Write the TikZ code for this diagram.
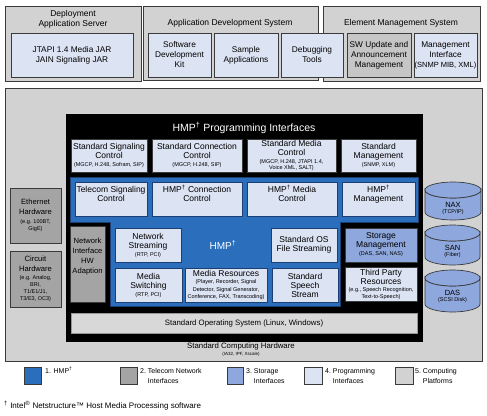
\documentclass[tikz,border=0pt]{standalone}
\usepackage{fontspec}
\setmainfont{Liberation Sans}
\definecolor{cplat}{HTML}{D2D2D2}
\definecolor{cswu}{HTML}{C6C6C6}
\definecolor{clight}{HTML}{DCE3F3}
\definecolor{cblue}{HTML}{2A6EBC}
\definecolor{cstor}{HTML}{8EA7DC}
\definecolor{ctel}{HTML}{A4A4A4}
\definecolor{cedge}{HTML}{3A3A3A}
\definecolor{cnavy}{HTML}{1C3F73}
\definecolor{cos}{HTML}{D8D8D8}
\newcommand\fs[2]{\fontsize{#1}{#2}\selectfont}
\newcommand\smt[1]{{\fs{5.5}{6.5}#1}}
\newcommand\dg{\textsuperscript{†}}
\newcommand\bx[7]{\node[#6, minimum width={(#4-#2)*1pt}, minimum height={(#5-#3)*1pt}] (#1) at ({(#2+#4)/2},{(#3+#5)/2}) {#7};}
\newcommand\twol[2]{\begin{tabular}[t]{@{}l@{}}#1\\#2\end{tabular}}
\tikzset{
  outerbox/.style={draw=cedge, fill=cplat, line width=0.8pt, inner sep=0pt},
  lbox/.style={draw=cedge, fill=clight, line width=0.7pt, inner sep=0pt, align=center, font=\fs{8.5}{9}},
  tbox/.style={lbox, font=\fs{8.3}{10}},
  nbox/.style={lbox, draw=cnavy},
  telbox/.style={lbox, fill=ctel, font=\fs{7.6}{10}},
  storbox/.style={lbox, fill=cstor},
  titletxt/.style={align=center, font=\fs{8.5}{9.5}, inner sep=0pt},
  whitetxt/.style={text=white, inner sep=0pt},
  cylbody/.style={fill=cstor, draw=cedge, line width=0.7pt},
  cyltxt/.style={align=center, font=\fs{7.5}{8}, inner sep=0pt},
  legsq/.style={draw=cedge, line width=0.7pt, inner sep=0pt},
  legtxt/.style={anchor=north west, font=\fs{7}{10}, inner sep=0pt},
}
\begin{document}
\begin{tikzpicture}[x=1pt,y=-1pt]
\useasboundingbox (0,0) rectangle (487,415);

% ---------- top row ----------
\bx{dep}{5}{6}{141}{81}{outerbox}{}
\node[titletxt] (deptitle) at (73,19.5) {Deployment\\Application Server};
\bx{jtapi}{11}{33}{133}{77}{tbox}{JTAPI 1.4 Media JAR\\JAIN Signaling JAR}

\bx{appdev}{143}{6}{318}{80}{outerbox}{}
\node[titletxt] (appdevtitle) at (230,23) {Application Development System};
\bx{elem}{323}{6}{480}{81}{outerbox}{}
\node[titletxt] (elemtitle) at (401,23) {Element Management System};

\bx{sdk}{148}{33}{211}{77}{tbox}{Software\\Development\\Kit}
\bx{sample}{214}{33}{278}{77}{tbox}{Sample\\Applications}
\bx{debug}{281}{33}{343}{77}{tbox}{Debugging\\Tools}
\bx{swupd}{347}{33}{411}{77}{tbox, fill=cswu}{SW Update and\\Announcement\\Management}
\bx{mgmtif}{414}{33}{477}{77}{tbox}{Management\\Interface\\{\fs{7.5}{9}(SNMP MIB, XML)}}

% ---------- platform ----------
\bx{plat}{5}{88}{482}{361}{outerbox, line width=1pt}{}
\node[inner sep=0pt, font=\fs{7.8}{9}] (hwtxt) at (241,346) {Standard Computing Hardware};
\node[inner sep=0pt, font=\fs{4.5}{5}] (hwsub) at (241,354) {(IA32, IPF, Xscale)};

% left hardware
\bx{eth}{10}{188}{61}{243}{telbox}{Ethernet\\Hardware\\[-1.5pt]\smt{(e.g. 100BT,}\\[-3pt]\smt{GigE)}}
\bx{circ}{10}{251}{61}{307}{telbox}{Circuit\\Hardware\\[-2pt]\smt{(e.g. Analog,}\\[-3pt]\smt{BRI,}\\[-3pt]\smt{T1/E1/J1,}\\[-3pt]\smt{T3/E3, OC3)}}

% ---------- black programming interfaces box ----------
\bx{prog}{66}{114}{423}{342}{fill=black, inner sep=0pt}{}
\node[whitetxt, font=\fs{10.5}{12}] (progtitle) at (244,128) {HMP\dg{} Programming Interfaces};

\bx{ssc}{71}{139}{147}{172}{lbox}{Standard Signaling\\Control\\[-1pt]\smt{(MGCP, H.248, Sofram, SIP)}}
\bx{scc}{152}{139}{242}{172}{lbox}{Standard Connection\\Control\\[-1pt]\smt{(MGCP, H.248, SIP)}}
\bx{smc}{247}{139}{336}{172}{lbox}{Standard Media\\Control\\[-1.5pt]\smt{(MGCP, H.248, JTAPI 1.4,}\\[-2.5pt]\smt{Voice XML, SALT)}}
\bx{smg}{341}{139}{416}{172}{lbox}{Standard\\Management\\[-1pt]\smt{(SNMP, XLM)}}

% blue HMP region
\draw[fill=cblue, draw=cnavy, line width=0.6pt] (70,177) -- (418,177) -- (418,222) -- (340,222) -- (340,306) -- (110,306) -- (110,222) -- (70,222) -- cycle;

\bx{tsc}{75}{182}{147}{216}{nbox}{Telecom Signaling\\Control\\[2pt]}
\bx{hcc}{152}{182}{242}{216}{nbox}{HMP\dg{} Connection\\Control\\[2pt]}
\bx{hmc}{247}{182}{337}{216}{nbox}{HMP\dg{} Media\\Control\\[2pt]}
\bx{hmg}{342}{182}{415}{216}{nbox}{HMP\dg\\Management\\[2pt]}

\bx{nia}{70}{226}{105}{302}{telbox}{Network\\Interface\\HW\\Adaption\\[6pt]}

\bx{ns}{115}{228}{181}{262}{nbox}{Network\\Streaming\\[-1pt]\smt{(RTP, PCI)}}
\node[whitetxt, font=\fs{10}{12}] (hmplabel) at (223,245) {HMP\dg};
\bx{sos}{271}{228}{337}{262}{nbox}{Standard OS\\File Streaming}
\bx{ms}{115}{268}{182}{302}{nbox}{Media\\Switching\\[-1pt]\smt{(RTP, PCI)}}
\bx{mr}{185}{268}{267}{302}{nbox}{Media Resources\\[-1.5pt]\smt{(Player, Recorder, Signal}\\[-1.5pt]\smt{Detector, Signal Generator,}\\[-1.5pt]\smt{Conference, FAX, Transcoding)}}
\bx{sss}{272}{268}{338}{302}{nbox}{Standard\\Speech\\Stream}

\bx{stm}{345}{228}{417}{262}{storbox}{Storage\\Management\\[-1pt]\smt{(DAS, SAN, NAS)}}
\bx{tpr}{345}{267}{417}{301}{lbox}{Third Party\\Resources\\[-1.5pt]\smt{(e.g., Speech Recognition,}\\[-2.5pt]\smt{Text-to-Speech)}}

\bx{os}{71}{313}{417}{333}{lbox, fill=cos, draw=cos!70!black, font=\fs{7.8}{9}}{Standard Operating System (Linux, Windows)}

% ---------- storage cylinders ----------
\foreach \nm/\xa/\xb/\yt/\yb/\lab/\sub in {nax/425/481/182/220/NAX/{(TCP/IP)}, san/425/480/225/265/SAN/{(Fiber)}, das/425/480/270/312/DAS/{(SCSI Disk)}}{
  \pgfmathsetmacro\rx{(\xb-\xa)/2}
  \pgfmathsetmacro\cx{(\xb+\xa)/2}
  \draw[cylbody] (\xa,\yt+8) -- (\xa,\yb-8) arc[start angle=180, end angle=0, x radius=\rx, y radius=8] -- (\xb,\yt+8) arc[start angle=0, end angle=180, x radius=\rx, y radius=8] -- cycle;
  \draw[cylbody] (\cx,\yt+8) ellipse [x radius=\rx, y radius=8];
  \node[cyltxt] (\nm) at (\cx,{\yt+26}) {\lab\\[-2pt]\smt{\sub}};
}

% ---------- legend ----------
\bx{lq1}{24}{367}{41}{384}{legsq, fill=cblue}{}
\node[legtxt] (lt1) at (45,366.5) {1. HMP\dg};
\bx{lq2}{120}{367}{137}{384}{legsq, fill=ctel}{}
\node[legtxt] (lt2) at (140,366.5) {2.\ \twol{Telecom Network}{Interfaces}};
\bx{lq3}{227}{367}{243}{384}{legsq, fill=cstor}{}
\node[legtxt] (lt3) at (246,366.5) {3.\ \twol{Storage}{Interfaces}};
\bx{lq4}{304}{367}{322}{384}{legsq, fill=clight}{}
\node[legtxt] (lt4) at (325,366.5) {4.\ \twol{Programming}{Interfaces}};
\bx{lq5}{395}{367}{413}{384}{legsq, fill=cplat}{}
\node[legtxt] (lt5) at (415,366.5) {5.\ \twol{Computing}{Platforms}};

\node[anchor=west, inner sep=0pt, font=\fs{8}{9}] (foot) at (4,406) {\dg{} Intel\textsuperscript{®} Netstructure™ Host Media Processing software};
\end{tikzpicture}
\end{document}
